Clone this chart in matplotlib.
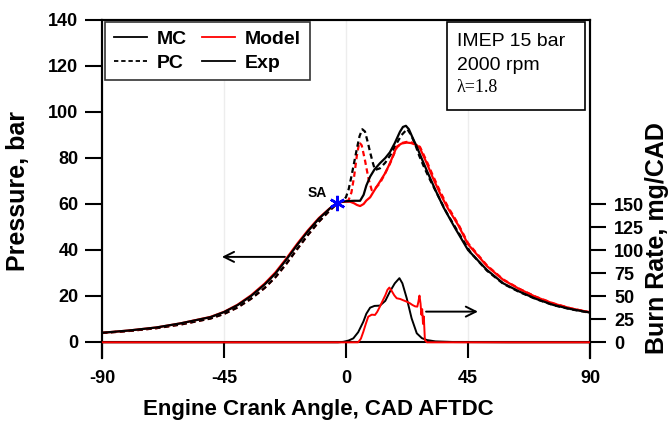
import matplotlib
matplotlib.use("Agg")
import matplotlib.pyplot as plt
from matplotlib.lines import Line2D
from matplotlib.patches import Rectangle

plt.rcParams['font.family'] = ['Liberation Sans', 'DejaVu Sans']
plt.rcParams['axes.unicode_minus'] = False

# ---------------- data ----------------
cad_mc_exp = [-90, -80, -70, -61, -50, -45, -40, -35, -30, -26, -22, -18, -14, -10, -6, -3.4, -1.5, 0, 3, 5.2,
              6.5, 7.5, 8.9, 10.5, 12.5, 14.5, 16.2, 18, 19.9, 21, 22.1, 23.2, 24.5, 26.1, 28,
              30, 33, 36, 40, 45, 52, 58, 64, 70, 76.5, 83, 90]
p_mc_exp = [4.0, 5.0, 6.3, 8.1, 10.8, 13.0, 16.0, 20.0, 25.0, 29.8, 35.8, 42.2, 48.2, 53.6, 58.0, 60.4, 61.0, 61.2, 61.4, 61.4,
            64.0, 68.0, 71.9, 75.0, 77.7, 80.0, 82.5, 86.5, 91.4, 93.5, 94.0, 92.5, 89.0, 84.9, 79.5,
            74.0, 66.0, 58.5, 50.0, 40.0, 31.3, 25.5, 21.9, 18.8, 16.1, 14.3, 12.8]

cad_pc_exp = [-90, -80, -70, -61, -50, -45, -40, -35, -30, -26, -22, -18, -14, -10, -6, -3.4, -1, 0, 1, 2, 3, 4,
              5, 6, 7, 8, 9, 10, 10.7, 12.5, 14.5, 16.5, 18.5, 20.5, 22.6, 24, 25.5, 27, 29, 31,
              34, 37, 41, 46, 52, 58, 64, 70, 76.5, 83, 90]
p_pc_exp = [3.9, 4.8, 6.0, 7.6, 10.2, 12.2, 15.0, 18.8, 23.5, 28.2, 34.0, 40.4, 46.6, 52.3, 57.2, 60.0, 61.5, 63.0, 66.5, 72.0, 78.0, 84.0,
            89.5, 92.5, 91.5, 87.0, 82.0, 77.5, 74.8, 75.5, 78.0, 81.5, 86.0, 90.0, 92.6, 90.0, 86.0, 81.0, 75.5, 70.5,
            63.5, 56.5, 48.5, 38.8, 31.0, 25.3, 21.7, 18.7, 16.0, 14.2, 12.7]

cad_mc_mod = [-90, -80, -70, -61, -50, -45, -40, -35, -30, -26, -22, -18, -14, -10, -6, -3.4, -1.5, 0, 1.5, 3, 4, 5.2,
              6.5, 7.5, 8.9, 10.5, 12.5, 14.5, 16.2, 18.7, 20.5, 22.4, 24, 26.1, 27.3, 29.8, 32,
              34.7, 37.5, 41.4, 45, 52, 58, 64, 70, 76.5, 83, 90]
p_mc_mod = [4.0, 5.0, 6.3, 8.1, 10.9, 13.1, 16.2, 20.3, 25.4, 30.3, 36.3, 42.7, 48.6, 53.9, 58.1, 60.4, 60.9, 61.0, 61.0, 60.3, 59.6, 59.1,
            60.0, 61.5, 62.9, 66.0, 69.7, 73.5, 77.7, 84.9, 86.3, 86.7, 86.5, 85.6, 84.2, 77.7, 71.5,
            64.6, 58.3, 50.8, 42.5, 33.0, 27.0, 23.0, 19.6, 16.7, 14.6, 12.9]

cad_pc_mod = [-90, -80, -70, -61, -50, -45, -40, -35, -30, -26, -22, -18, -14, -10, -6, -3.4, -1, 0.9, 2, 3, 4,
              4.9, 5.8, 7, 8.3, 9.5, 10.5, 12.5, 14.5, 16.2, 18.7, 20.5, 22.4, 24, 26.1, 27.3, 29.8,
              32, 34.7, 37.5, 41.4, 45, 52, 58, 64, 70, 76.5, 83, 90]
p_pc_mod = [3.9, 4.8, 6.0, 7.6, 10.2, 12.2, 15.0, 18.8, 23.5, 28.2, 34.0, 40.4, 46.6, 52.3, 57.2, 60.0, 61.2, 61.5, 65.0, 72.0, 81.0,
            86.8, 85.5, 79.0, 71.0, 66.0, 66.5, 69.0, 73.5, 77.5, 84.5, 86.5, 87.0, 86.8, 86.0, 84.8, 78.5,
            72.5, 65.5, 59.0, 51.3, 43.0, 33.3, 27.2, 23.1, 19.7, 16.8, 14.6, 12.9]

cad_br_exp = [-90, -10, -3, -1, 1, 2.7, 4.5, 6.4, 7.5, 8.9, 10.5, 12.5, 14.5, 16.2, 18, 19.7, 20.8,
              22.4, 24.2, 26.1, 28, 29.8, 33, 40, 60, 90]
br_exp = [0, 0, 0, 0.5, 2, 4.3, 11, 22.4, 31, 37.6, 39.5, 39.8, 45, 55, 64, 69.6, 64,
          47.8, 26, 9.8, 4.5, 2.5, 1, 0.3, 0, 0]

cad_br_mod = [-90, 4.5, 5.5, 6.4, 7.3, 8.2, 9.5, 10.7, 11.5, 12.5, 13.5, 14.5, 15.3, 16.0, 16.8, 17.8,
              18.7, 20, 21.2, 22.4, 23.5, 24.5, 25.5, 26.3, 26.7, 27.1, 27.5, 27.8, 28.1, 28.4, 28.7,
              29.1, 29.8, 35, 90]
br_mod = [0, 0, 4, 11.5, 20, 27.8, 30, 29.7, 33, 38.7, 45, 51, 57, 59.4, 56, 51,
          47.8, 47, 45.5, 44.1, 42.5, 40.5, 39, 38.7, 44, 50.7, 42, 30, 36, 20, 28,
          2.5, 0, 0, 0]

sa_cad, sa_p = -3.4, 60.4

x_ticks = [-90, -45, 0, 45, 90]
p_ticks = [0, 20, 40, 60, 80, 100, 120, 140]
br_ticks = [0, 25, 50, 75, 100, 125, 150]

# ---------------- figure ----------------
W, H = 672, 424
fig = plt.figure(figsize=(W / 100, H / 100), dpi=100)
ax = fig.add_axes([102 / W, (H - 358) / H, 488 / W, 338 / H])
ax2 = ax.twinx()

lw = 1.6
dash = (2.4, 1.6)
ax.plot(cad_pc_mod, p_pc_mod, color='red', lw=lw, dashes=dash, zorder=3)
ax.plot(cad_pc_exp, p_pc_exp, color='black', lw=lw, dashes=dash, zorder=3)
ax.plot(cad_mc_mod, p_mc_mod, color='red', lw=lw, zorder=4)
ax.plot(cad_mc_exp, p_mc_exp, color='black', lw=lw, zorder=4)
ax.plot([sa_cad], [sa_p], marker=(6, 2, 0), ms=11, mew=1.8, color='blue', zorder=6, ls='none')
ax.text(-10.7, 64.8, 'SA', fontsize=10, fontweight='bold', ha='center', va='center')

ax2.plot(cad_br_exp, br_exp, color='black', lw=1.4, zorder=3)
ax2.plot(cad_br_mod, br_mod, color='red', lw=1.4, zorder=4)

ax.annotate('', xy=(-46.8, 37), xytext=(-21.5, 37),
            arrowprops=dict(arrowstyle='->', lw=1.4, color='black', mutation_scale=18))
ax2.annotate('', xy=(49.7, 33.3), xytext=(28.5, 33.3),
             arrowprops=dict(arrowstyle='->', lw=1.4, color='black', mutation_scale=18))

ax.set_xlim(-90, 90)
ax.set_ylim(-6.96, 140)
ax2.set_ylim(-17.0, 349.6)
ax.set_xticks(x_ticks)
ax.set_xticklabels([str(v) for v in x_ticks])
ax.set_yticks(p_ticks)
ax2.set_yticks(br_ticks)

ax.spines['bottom'].set_position(('data', 0))
for s in ax.spines.values():
    s.set_linewidth(1.5)
for s in ax2.spines.values():
    s.set_linewidth(1.5)
ax2.spines['bottom'].set_visible(False)

ax.grid(axis='x', color='#ededed', lw=1.0, zorder=0)
ax.set_axisbelow(True)

ax.tick_params(axis='x', direction='out', length=11.5, width=1.5, pad=9)
ax.tick_params(axis='y', direction='out', length=12, width=1.5, pad=5)
ax2.tick_params(axis='y', direction='out', length=11.5, width=1.5, pad=6)
for lab in ax.get_xticklabels() + ax.get_yticklabels() + ax2.get_yticklabels():
    lab.set_fontsize(13)
    lab.set_fontweight('bold')

fig.text(318 / W, 1 - 410 / H, 'Engine Crank Angle, CAD AFTDC', fontsize=16, fontweight='bold',
         ha='center', va='center')
fig.text(18 / W, 1 - 191 / H, 'Pressure, bar', fontsize=18, fontweight='bold',
         ha='center', va='center', rotation=90)
fig.text(657 / W, 1 - 238 / H, 'Burn Rate, mg/CAD', fontsize=18, fontweight='bold',
         ha='center', va='center', rotation=90)

# legend
handles = [Line2D([], [], color='black', lw=1.3),
           Line2D([], [], color='black', lw=1.3, dashes=(2.4, 1.6)),
           Line2D([], [], color='red', lw=1.3),
           Line2D([], [], color='black', lw=1.3)]
labels = ['MC', 'PC', 'Model', 'Exp']
leg = ax.legend(handles, labels, ncol=2, loc='upper left',
                bbox_to_anchor=(105 / W, 1 - 21.7 / H), bbox_transform=fig.transFigure,
                borderaxespad=0, fancybox=False, framealpha=1, edgecolor='#333333',
                prop=dict(size=14, weight='bold'), handlelength=1.7, handletextpad=0.5,
                columnspacing=0.8, labelspacing=0.3, borderpad=0.45)
leg.get_frame().set_linewidth(1.2)
leg.set_zorder(10)

# info box
bx0 = (447.3 - 102) / 488
bx1 = (585 - 102) / 488
by1 = (358 - 22.3) / 338
by0 = (358 - 110) / 338
ax.add_patch(Rectangle((bx0, by0), bx1 - bx0, by1 - by0, transform=ax.transAxes,
                       facecolor='white', edgecolor='black', lw=1.2, zorder=9))
tx = (456.7 - 102) / 488
ax.text(tx, (358 - 41.7) / 338, 'IMEP 15 bar', transform=ax.transAxes, fontsize=14,
        ha='left', va='center', zorder=10)
ax.text(tx, (358 - 65) / 338, '2000 rpm', transform=ax.transAxes, fontsize=14,
        ha='left', va='center', zorder=10)
ax.text(tx, (358 - 88) / 338, 'λ=1.8', transform=ax.transAxes, fontsize=13,
        family=['Liberation Serif', 'DejaVu Serif'], ha='left', va='center', zorder=10)

fig.savefig('out.png', dpi=100)
